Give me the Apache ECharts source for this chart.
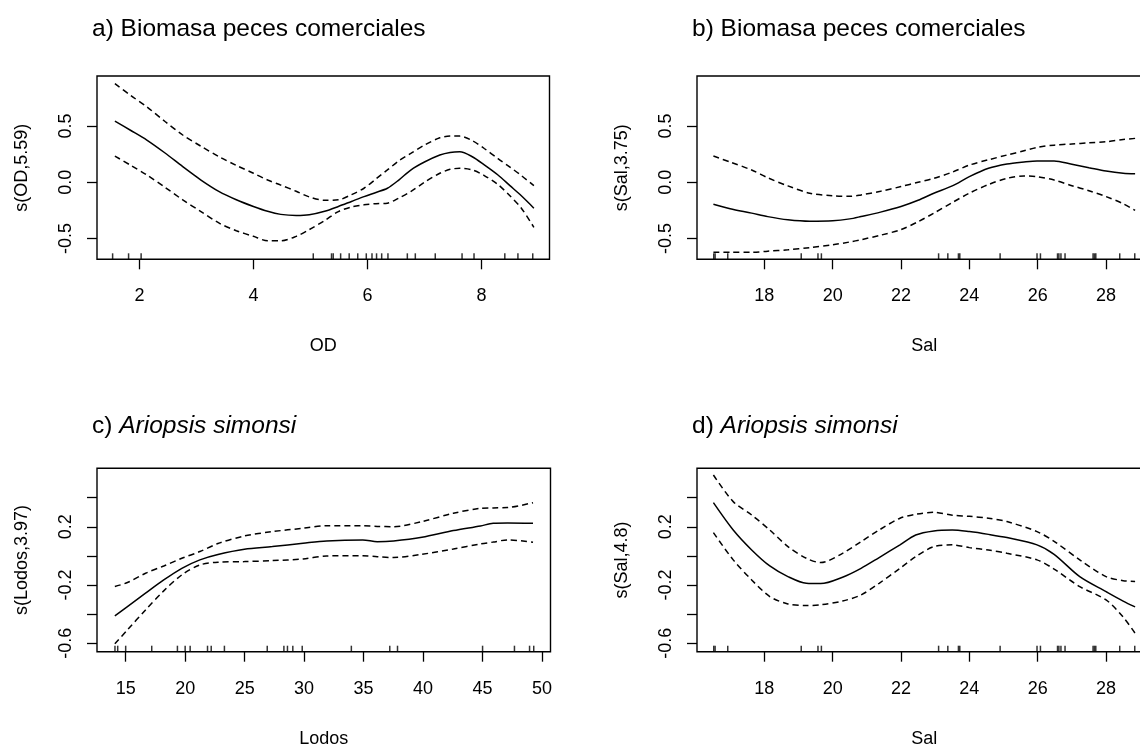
<!DOCTYPE html>
<html>
<head>
<meta charset="utf-8">
<script src="https://cdn.jsdelivr.net/npm/echarts@6/dist/echarts.min.js"></script>
<style>
  html, body { margin: 0; padding: 0; background: #fff; }
  #chart { width: 1140px; height: 744px; }
</style>
</head>
<body>
<div id="chart"></div>
<script>
// ---- a) smooth term of OD (dissolved oxygen) ----
const odX = [1.57, 1.85, 2.13, 2.45, 2.76, 3.08, 3.40, 3.70, 4.00, 4.25, 4.48, 4.75, 4.98, 5.25, 5.49, 5.72,
             5.94, 6.15, 6.35, 6.55, 6.76, 7.00, 7.27, 7.45, 7.62, 7.84, 8.05, 8.29, 8.50, 8.70, 8.92];
const odFit = [0.543, 0.46, 0.375, 0.26, 0.139, 0.02, -0.083, -0.155, -0.215, -0.258, -0.285, -0.295, -0.289, -0.258, -0.215, -0.17,
               -0.127, -0.09, -0.053, 0.02, 0.109, 0.18, 0.242, 0.265, 0.271, 0.227, 0.155, 0.065, -0.03, -0.12, -0.23];
const odUpper = [0.876, 0.77, 0.67, 0.54, 0.42, 0.32, 0.227, 0.15, 0.08, 0.02, -0.025, -0.08, -0.13, -0.16, -0.156, -0.11,
                 -0.053, 0.03, 0.11, 0.19, 0.257, 0.33, 0.395, 0.41, 0.41, 0.37, 0.30, 0.21, 0.135, 0.06, -0.03];
const odLower = [0.233, 0.15, 0.065, -0.045, -0.156, -0.26, -0.363, -0.43, -0.48, -0.52, -0.52, -0.48, -0.42, -0.34, -0.26, -0.22,
                 -0.2, -0.19, -0.186, -0.14, -0.083, 0.0, 0.08, 0.115, 0.124, 0.11, 0.06, -0.02, -0.12, -0.23, -0.40];
const odRug = [1.53, 1.81, 2.03, 5.05, 5.37, 5.40, 5.53, 5.68, 5.83, 5.98, 6.08, 6.16, 6.25, 6.36, 6.70, 6.84, 7.19, 7.66, 7.87, 8.41, 8.64, 8.90];

// ---- b) smooth term of salinity, commercial fish biomass ----
const salBX = [16.51, 17.0, 17.63, 18.1, 18.69, 19.33, 20.0, 20.5, 20.83, 21.4, 22.0, 22.5, 22.96, 23.5, 24.0, 24.56,
               25.1, 25.6, 25.98, 26.48, 27.0, 27.5, 28.0, 28.5, 28.85];
const salBFit = [-0.195, -0.235, -0.274, -0.305, -0.333, -0.346, -0.342, -0.325, -0.304, -0.265, -0.215, -0.16, -0.097, -0.032, 0.05, 0.124,
                 0.162, 0.18, 0.189, 0.189, 0.16, 0.13, 0.10, 0.08, 0.075];
const salBUpper = [0.233, 0.18, 0.109, 0.04, -0.032, -0.097, -0.12, -0.125, -0.112, -0.08, -0.038, 0.0, 0.035, 0.09, 0.153, 0.2,
                   0.242, 0.28, 0.31, 0.33, 0.34, 0.35, 0.36, 0.38, 0.39];
const salBLower = [-0.622, -0.622, -0.622, -0.612, -0.60, -0.58, -0.555, -0.53, -0.51, -0.47, -0.42, -0.35, -0.274, -0.18, -0.097, -0.02,
                   0.035, 0.056, 0.05, 0.02, -0.03, -0.075, -0.127, -0.19, -0.25];

// ---- c) smooth term of Lodos, Ariopsis simonsi ----
const lodosX = [14.09, 15.15, 16.67, 18.2, 19.72, 21.24, 22.76, 24.98, 27.33, 29.91, 31.89, 34.93, 36.15, 37.52, 39.9, 42.54,
                44.82, 45.89, 47.1, 49.24];
const lodosFit = [-0.412, -0.348, -0.256, -0.165, -0.085, -0.027, 0.01, 0.046, 0.064, 0.087, 0.103, 0.11, 0.098, 0.103, 0.128, 0.174,
                  0.206, 0.224, 0.226, 0.224];
const lodosUpper = [-0.21, -0.183, -0.119, -0.069, -0.016, 0.03, 0.085, 0.137, 0.167, 0.19, 0.208, 0.208, 0.203, 0.201, 0.236, 0.293,
                    0.327, 0.33, 0.332, 0.366];
const lodosLower = [-0.604, -0.508, -0.371, -0.24, -0.13, -0.062, -0.043, -0.039, -0.032, -0.021, 0.0, 0.002, -0.005, -0.011, 0.011, 0.048,
                    0.082, 0.095, 0.11, 0.094];
const lodosRug = [14.1, 14.33, 15.0, 17.19, 19.35, 20.0, 20.42, 21.88, 22.19, 23.3, 26.9, 28.3, 28.6, 29.05, 29.84, 33.97,
                  37.2, 37.85, 45.0, 47.68, 48.95, 49.3];

// ---- d) smooth term of salinity, Ariopsis simonsi ----
const salDX = [16.51, 17.09, 17.63, 18.16, 18.69, 19.23, 19.65, 20.29, 20.83, 21.36, 21.97, 22.43, 22.96, 23.5, 24.0, 24.56,
               25.1, 25.98, 26.48, 27.23, 28.0, 28.5, 28.85];
const salDFit = [0.366, 0.178, 0.041, -0.069, -0.142, -0.188, -0.19, -0.146, -0.085, -0.011, 0.076, 0.144, 0.172, 0.178, 0.167, 0.148,
                 0.126, 0.076, 0.011, -0.142, -0.245, -0.31, -0.35];
const salDUpper = [0.556, 0.373, 0.281, 0.178, 0.064, -0.016, -0.046, 0.018, 0.098, 0.178, 0.259, 0.286, 0.30, 0.28, 0.272, 0.259,
                   0.236, 0.167, 0.10, -0.027, -0.142, -0.17, -0.176];
const salDLower = [0.16, -0.027, -0.165, -0.279, -0.33, -0.341, -0.335, -0.31, -0.268, -0.188, -0.085, -0.005, 0.064, 0.076, 0.057, 0.04,
                   0.018, -0.027, -0.09, -0.211, -0.302, -0.42, -0.531];

// observed salinity values (rug)
const salRug = [16.52, 16.56, 16.93, 19.08, 19.57, 19.67, 23.10, 23.37, 23.68, 23.72, 24.90, 25.98, 26.08, 26.58, 26.62, 26.68,
                26.80, 27.62, 27.66, 27.70, 28.40, 28.84];

// tick positions and labels
const odTicks = [2, 4, 6, 8];
const salTicks = [18, 20, 22, 24, 26, 28];
const lodosTicks = [15, 20, 25, 30, 35, 40, 45, 50];
const yTicksTop = [-0.5, 0, 0.5];
const yTicksBottom = [-0.6, -0.4, -0.2, 0, 0.2, 0.4];
const yLabelsBottom = [-0.6, -0.2, 0.2];

const titles = ['a) Biomasa peces comerciales', 'b) Biomasa peces comerciales', 'c) {i|Ariopsis simonsi}', 'd) {i|Ariopsis simonsi}'];

const FONT = '"Liberation Sans", Arial, sans-serif';
const INK = '#000';
const TITLE_SIZE = 24.5;
const TEXT_SIZE = 18;

const panels = [
  { grid: { left: 97, top: 76, width: 452.5, height: 183.3 }, xr: [1.256, 9.194], yr: [-0.684, 0.944],
    xTicks: odTicks, yTicks: yTicksTop, yLabels: yTicksTop, xName: 'OD', yName: 's(OD,5.59)',
    x: odX, fit: odFit, up: odUpper, lo: odLower, rug: odRug, title: titles[0], tx: 92, ty: 17 },
  { grid: { left: 697, top: 76, width: 454.5, height: 183.3 }, xr: [16.03, 29.33], yr: [-0.684, 0.944],
    xTicks: salTicks, yTicks: yTicksTop, yLabels: yTicksTop, xName: 'Sal', yName: 's(Sal,3.75)',
    x: salBX, fit: salBFit, up: salBUpper, lo: salBLower, rug: salRug, title: titles[1], tx: 692, ty: 17 },
  { grid: { left: 97, top: 468.3, width: 453.5, height: 183.4 }, xr: [12.59, 50.71], yr: [-0.658, 0.602],
    xTicks: lodosTicks, yTicks: yTicksBottom, yLabels: yLabelsBottom, xName: 'Lodos', yName: 's(Lodos,3.97)',
    x: lodosX, fit: lodosFit, up: lodosUpper, lo: lodosLower, rug: lodosRug, title: titles[2], tx: 92, ty: 414 },
  { grid: { left: 697, top: 468.3, width: 454.5, height: 183.4 }, xr: [16.03, 29.33], yr: [-0.658, 0.602],
    xTicks: salTicks, yTicks: yTicksBottom, yLabels: yLabelsBottom, xName: 'Sal', yName: 's(Sal,4.8)',
    x: salDX, fit: salDFit, up: salDUpper, lo: salDLower, rug: salRug, title: titles[3], tx: 692, ty: 414 }
];

const pair = (xs, ys) => xs.map((v, j) => [v, ys[j]]);

const option = {
  animation: false,
  backgroundColor: '#fff',
  title: panels.map(p => ({
    text: p.title, left: p.tx, top: p.ty, padding: 0,
    textStyle: {
      fontFamily: FONT, fontSize: TITLE_SIZE, fontWeight: 'normal', color: INK,
      rich: { i: { fontFamily: FONT, fontSize: TITLE_SIZE, fontStyle: 'italic', color: INK } }
    }
  })),
  grid: panels.map(p => Object.assign({
    show: true, borderColor: INK, borderWidth: 1.4, backgroundColor: 'transparent',
    containLabel: false, outerBoundsMode: 'none'
  }, p.grid)),
  xAxis: panels.map((p, i) => ({
    type: 'value', gridIndex: i, min: p.xr[0], max: p.xr[1],
    axisLine: { show: false, onZero: false },
    axisTick: { show: true, inside: false, length: 10, lineStyle: { color: INK, width: 1.3 }, customValues: p.xTicks },
    axisLabel: { customValues: p.xTicks, margin: 28, color: INK, fontSize: TEXT_SIZE, fontFamily: FONT },
    splitLine: { show: false },
    name: p.xName, nameLocation: 'middle', nameGap: 78,
    nameTextStyle: { color: INK, fontSize: TEXT_SIZE, fontFamily: FONT }
  })),
  yAxis: panels.map((p, i) => ({
    type: 'value', gridIndex: i, min: p.yr[0], max: p.yr[1],
    axisLine: { show: false, onZero: false },
    axisTick: { show: true, inside: false, length: 10, lineStyle: { color: INK, width: 1.3 }, customValues: p.yTicks },
    axisLabel: { customValues: p.yLabels, rotate: 90, margin: 22, color: INK, fontSize: TEXT_SIZE, fontFamily: FONT,
                 formatter: v => v.toFixed(1) },
    splitLine: { show: false },
    name: p.yName, nameLocation: 'middle', nameGap: 66, nameRotate: 90,
    nameTextStyle: { color: INK, fontSize: TEXT_SIZE, fontFamily: FONT }
  })),
  series: panels.flatMap((p, i) => [
    { type: 'line', xAxisIndex: i, yAxisIndex: i, data: pair(p.x, p.fit), showSymbol: false, smooth: 0.3, silent: true,
      lineStyle: { color: INK, width: 1.5 } },
    { type: 'line', xAxisIndex: i, yAxisIndex: i, data: pair(p.x, p.up), showSymbol: false, smooth: 0.3, silent: true,
      lineStyle: { color: INK, width: 1.5, type: [6, 4] } },
    { type: 'line', xAxisIndex: i, yAxisIndex: i, data: pair(p.x, p.lo), showSymbol: false, smooth: 0.3, silent: true,
      lineStyle: { color: INK, width: 1.5, type: [6, 4] } },
    { type: 'scatter', xAxisIndex: i, yAxisIndex: i, data: p.rug.map(v => [v, p.yr[0]]), silent: true,
      symbol: 'rect', symbolSize: [1.5, 6], symbolOffset: [0, -3], itemStyle: { color: INK } }
  ])
};

const chart = echarts.init(document.getElementById('chart'), null, { renderer: 'canvas' });
chart.setOption(option);
</script>
</body>
</html>
